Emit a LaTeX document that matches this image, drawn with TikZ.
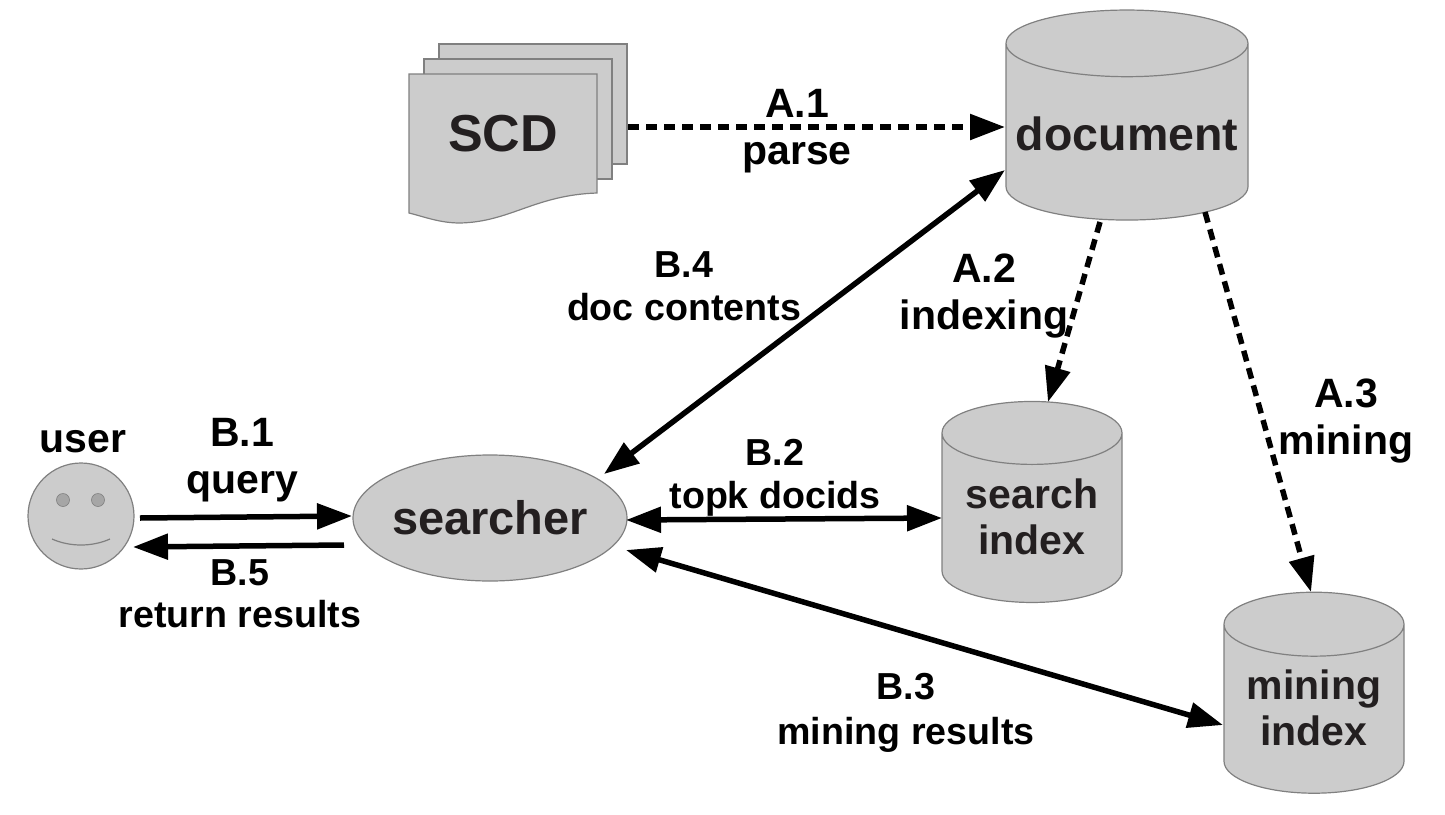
\documentclass[tikz,border=0pt]{standalone}
\usepackage{fontspec}
\setmainfont{Liberation Sans}
\usetikzlibrary{shapes.geometric,arrows.meta}
\definecolor{shapefill}{HTML}{CCCCCC}
\definecolor{shapeline}{HTML}{808080}
\definecolor{inktext}{HTML}{231F20}
\newcommand{\dropline}[1]{\raisebox{1.5pt}[\height][\depth]{#1}}
\tikzset{
  x=1pt,y=-1pt,
  shapestyle/.style={draw=shapeline,fill=shapefill,line width=1.2pt},
  dbstyle/.style={shape=cylinder,shape border rotate=90,draw=shapeline,cylinder uses custom fill,
    cylinder body fill=shapefill,cylinder end fill=shapefill,line width=1.2pt,inner sep=0pt,outer sep=0pt,align=center,
    text=inktext,font=\bfseries\fontsize{41}{46}\selectfont},
  eyestyle/.style={circle,draw=shapeline,fill=black!35,line width=.6pt,minimum size=13pt,inner sep=0pt},
  lab/.style={align=center,inner sep=0pt,font=\bfseries\fontsize{37.6}{45}\selectfont},
  biglab/.style={align=center,inner sep=0pt,font=\bfseries\fontsize{41}{47}\selectfont},
  head/.style={line width=5.5pt,-{Triangle[length=35pt,width=25pt]}},
  bihead/.style={line width=5.5pt,{Triangle[length=35pt,width=25pt]}-{Triangle[length=35pt,width=25pt]}},
  dashhead/.style={line width=5.5pt,dash pattern=on 11pt off 7pt,-{Triangle[length=35pt,width=25pt]}},
}
\begin{document}
\begin{tikzpicture}
\useasboundingbox (0,0) rectangle (1445,814);
% SCD pages
\draw[shapestyle] (439,44) rectangle (627,164);
\draw[shapestyle] (424,59) rectangle (612,179);
\draw[shapestyle] (409,74) -- (597,74) -- (597,193)
  .. controls (535,195) and (510,222) .. (460,223)
  .. controls (440,223) and (425,217) .. (409,213) -- cycle;
\node[inner sep=0pt,text=inktext,font=\bfseries\fontsize{52}{60}\selectfont] (scd) at (503,134) {SCD};
% databases
\node[dbstyle,minimum width=242pt,minimum height=210pt,aspect=0.30,font=\bfseries\fontsize{46.5}{50}\selectfont] (doc) at (1127,132) {\raisebox{-2pt}[\height][\depth]{document}};
\node[dbstyle,minimum width=180pt,minimum height=201pt,aspect=0.476] (sidx) at (1032,518) {\dropline{search}\\\dropline{index}};
\node[dbstyle,minimum width=180pt,minimum height=201pt,aspect=0.476] (midx) at (1314,709) {\dropline{mining}\\\dropline{index}};
% searcher
\node[ellipse,shapestyle,minimum width=274pt,minimum height=126pt,inner sep=0pt,text=inktext,
  font=\bfseries\fontsize{47}{52}\selectfont] (searcher) at (490,518) {\makebox[150pt]{searcher}};
% user
\node[circle,shapestyle,minimum size=106pt,inner sep=0pt] (user) at (81,516) {};
\node[eyestyle] (eyeL) at (63,500) {};
\node[eyestyle] (eyeR) at (98,500) {};
\coordinate (smileL) at (52,539);
\coordinate (smileR) at (110,539);
\draw[shapeline,line width=1.2pt] (smileL) .. controls (70,547) and (92,547) .. (smileR);
\node[inner sep=0pt,font=\bfseries\fontsize{41}{45}\selectfont] (userlab) at (83,442) {user};
% end points
\coordinate (a1s) at (628,127); \coordinate (a1e) at (1005,127);
\coordinate (b4s) at (1005,170); \coordinate (b4e) at (604,474);
\coordinate (a2s) at (1100,222); \coordinate (a2e) at (1048,402);
\coordinate (a3s) at (1205,212); \coordinate (a3e) at (1311,592);
\coordinate (b1s) at (140,518); \coordinate (b1e) at (352,516);
\coordinate (b5s) at (344,545); \coordinate (b5e) at (133,547);
\coordinate (b2s) at (626,520); \coordinate (b2e) at (942,518);
\coordinate (b3s) at (626,550); \coordinate (b3e) at (1223,725);
\draw[dashhead] (a1s) -- (a1e);
\draw[dashhead] (a2s) -- (a2e);
\draw[dashhead] (a3s) -- (a3e);
\draw[bihead] (b4s) -- (b4e);
\draw[bihead] (b2s) -- (b2e);
\draw[bihead] (b3s) -- (b3e);
\draw[head] (b1s) -- (b1e);
\draw[head] (b5s) -- (b5e);
% labels
\node[biglab] (la1) at (797,131) {A.1\\parse};
\node[biglab] (la2) at (984,296) {A.2\\indexing};
\node[biglab] (la3) at (1346,421) {A.3\\mining};
\node[biglab] (lb1) at (242,460) {B.1\\query};
\node[lab] (lb2) at (775,478) {B.2\\[-2pt]topk docids};
\node[lab] (lb3) at (906,713) {B.3\\mining results};
\node[lab] (lb4) at (684,286) {B.4\\[-2pt]doc contents};
\node[lab] (lb5) at (240,593.5) {B.5\\[-3pt]return results};
\end{tikzpicture}
\end{document}
